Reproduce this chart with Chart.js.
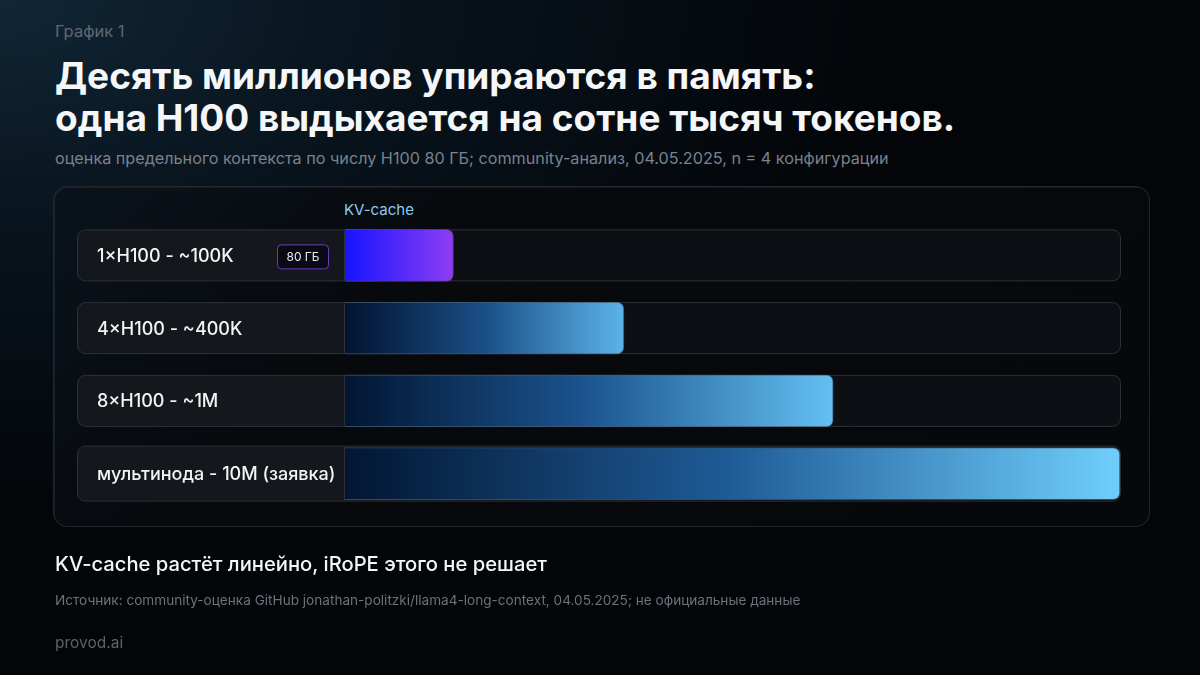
<!DOCTYPE html>
<html lang="ru">
<head>
<meta charset="utf-8">
<script src="https://cdn.jsdelivr.net/npm/chart.js@4.4.1/dist/chart.umd.min.js"></script>
<style>
  html,body{margin:0;padding:0;}
  body{width:1200px;height:675px;overflow:hidden;position:relative;font-family:Inter,"Noto Sans",sans-serif;
    background:radial-gradient(ellipse 900px 520px at 0px 0px,#112636 0%,#08131c 45%,#030508 100%);}
  .t{position:absolute;left:55px;white-space:nowrap;}
  #kicker{top:21px;font-size:16.5px;color:#5f6873;}
  #title{top:55px;font-size:37px;font-weight:700;line-height:42px;color:#f4f6f8;letter-spacing:0px;}
  #sub{top:148px;font-size:16.2px;color:#7a828c;}
  #panel{position:absolute;left:53px;top:186px;width:1095px;height:339px;border-radius:14px;
    border:1px solid #23282f;background:linear-gradient(135deg,#0a131b 0%,#07090d 30%,#06080b 100%);
    box-shadow:inset 1px 1px 0 rgba(90,140,180,0.14);}
  #kv{position:absolute;left:344px;top:200px;font-size:15px;color:#8ccbf0;}
  #note{top:551px;font-size:20.2px;font-weight:500;color:#f4f6f8;}
  #src{top:592px;font-size:13.6px;color:#6c737b;}
  #brand{top:633px;font-size:15.5px;color:#5b626b;}
  #wrap{position:absolute;left:0;top:0;width:1200px;height:675px;}
</style>
</head>
<body>
<div class="t" id="kicker">График 1</div>
<div class="t" id="title">Десять миллионов упираются в память:<br>одна H100 выдыхается на сотне тысяч токенов.</div>
<div class="t" id="sub">оценка предельного контекста по числу H100 80 ГБ; community-анализ, 04.05.2025, n = 4 конфигурации</div>
<div id="panel"></div>
<div id="kv">KV-cache</div>
<div id="wrap"><canvas id="c" width="1200" height="675"></canvas></div>
<div class="t" id="note">KV-cache растёт линейно, iRoPE этого не решает</div>
<div class="t" id="src">Источник: community-оценка GitHub jonathan-politzki/llama4-long-context, 04.05.2025; не официальные данные</div>
<div class="t" id="brand">provod.ai</div>
<script>
const categories = ['1×H100 - ~100K', '4×H100 - ~400K', '8×H100 - ~1M', 'мультинода - 10M (заявка)'];
const kvCacheBar = [14, 36, 63, 100];
const badges = ['80 ГБ', '', '', ''];
const axisMax = 100;

const gradStops = [
  ['#1614ff', null, '#8f3ef2'],
  ['#021330', '#1a4f86', '#5cb3ea'],
  ['#021632', '#1c5590', '#64c0f2'],
  ['#021632', '#1f5c98', '#70cefc']
];

function rr(ctx, x, y, w, h, r) {
  ctx.beginPath();
  ctx.roundRect(x, y, w, h, r);
}

const rowPlugin = {
  id: 'rows',
  beforeDatasetsDraw(chart) {
    const ctx = chart.ctx, ys = chart.scales.y, xs = chart.scales.x;
    const left = 77, sep = xs.getPixelForValue(0) - 1, right = xs.getPixelForValue(axisMax) + 1;
    categories.forEach((lab, i) => {
      const yc = ys.getPixelForValue(i);
      const h = i === 3 ? 56 : 52;
      const top = yc - h / 2;
      ctx.save();
      rr(ctx, left + 0.5, top + 0.5, right - left - 1, h - 1, 8);
      ctx.fillStyle = '#0c0f13';
      ctx.fill();
      ctx.save();
      ctx.clip();
      ctx.fillStyle = '#14171c';
      ctx.fillRect(left, top, sep - left, h);
      ctx.restore();
      ctx.strokeStyle = '#2d3238';
      ctx.lineWidth = 1;
      rr(ctx, left + 0.5, top + 0.5, right - left - 1, h - 1, 8);
      ctx.stroke();
      ctx.beginPath();
      ctx.moveTo(sep + 0.5, top + 1);
      ctx.lineTo(sep + 0.5, top + h - 1);
      ctx.stroke();
      ctx.fillStyle = '#f2f4f6';
      ctx.font = '500 18px Inter, "Noto Sans", sans-serif';
      ctx.textBaseline = 'middle';
      ctx.textAlign = 'left';
      ctx.fillText(lab, 97, yc + 1);
      if (badges[i]) {
        const bx = 277, bw = 51, bh = 24, by = yc - 11;
        rr(ctx, bx + 0.5, by + 0.5, bw, bh, 4);
        ctx.fillStyle = '#0a0a14';
        ctx.fill();
        ctx.strokeStyle = '#6a3dbf';
        ctx.stroke();
        ctx.fillStyle = '#e8e8f0';
        ctx.font = '12px Inter, "Noto Sans", sans-serif';
        ctx.textAlign = 'center';
        ctx.fillText(badges[i], bx + bw / 2 + 0.5, by + bh / 2 + 1);
      }
      ctx.restore();
    });
  }
};

new Chart(document.getElementById('c'), {
  type: 'bar',
  data: {
    labels: categories,
    datasets: [{
      label: 'KV-cache',
      data: kvCacheBar,
      barThickness: 52,
      backgroundColor: (c) => {
        const chart = c.chart;
        if (!chart.chartArea) return '#3a8ad0';
        const xs = chart.scales.x;
        const x0 = xs.getPixelForValue(0), x1 = xs.getPixelForValue(c.raw);
        const g = chart.ctx.createLinearGradient(x0, 0, x1, 0);
        const s = gradStops[c.dataIndex];
        g.addColorStop(0, s[0]);
        if (s[1]) g.addColorStop(0.5, s[1]);
        g.addColorStop(1, s[2]);
        return g;
      },
      borderColor: (c) => c.dataIndex === 0 ? 'rgba(150,110,255,0.4)' : 'rgba(120,190,240,0.35)',
      borderWidth: 1,
      borderSkipped: 'left',
      borderRadius: {topLeft: 0, bottomLeft: 0, topRight: 7, bottomRight: 7}
    }]
  },
  options: {
    indexAxis: 'y',
    responsive: false,
    animation: false,
    events: [],
    layout: {padding: {left: 345, right: 80, top: 219, bottom: 165}},
    scales: {
      x: {display: false, min: 0, max: axisMax},
      y: {display: false}
    },
    plugins: {legend: {display: false}, tooltip: {enabled: false}}
  },
  plugins: [rowPlugin]
});
</script>
</body>
</html>
